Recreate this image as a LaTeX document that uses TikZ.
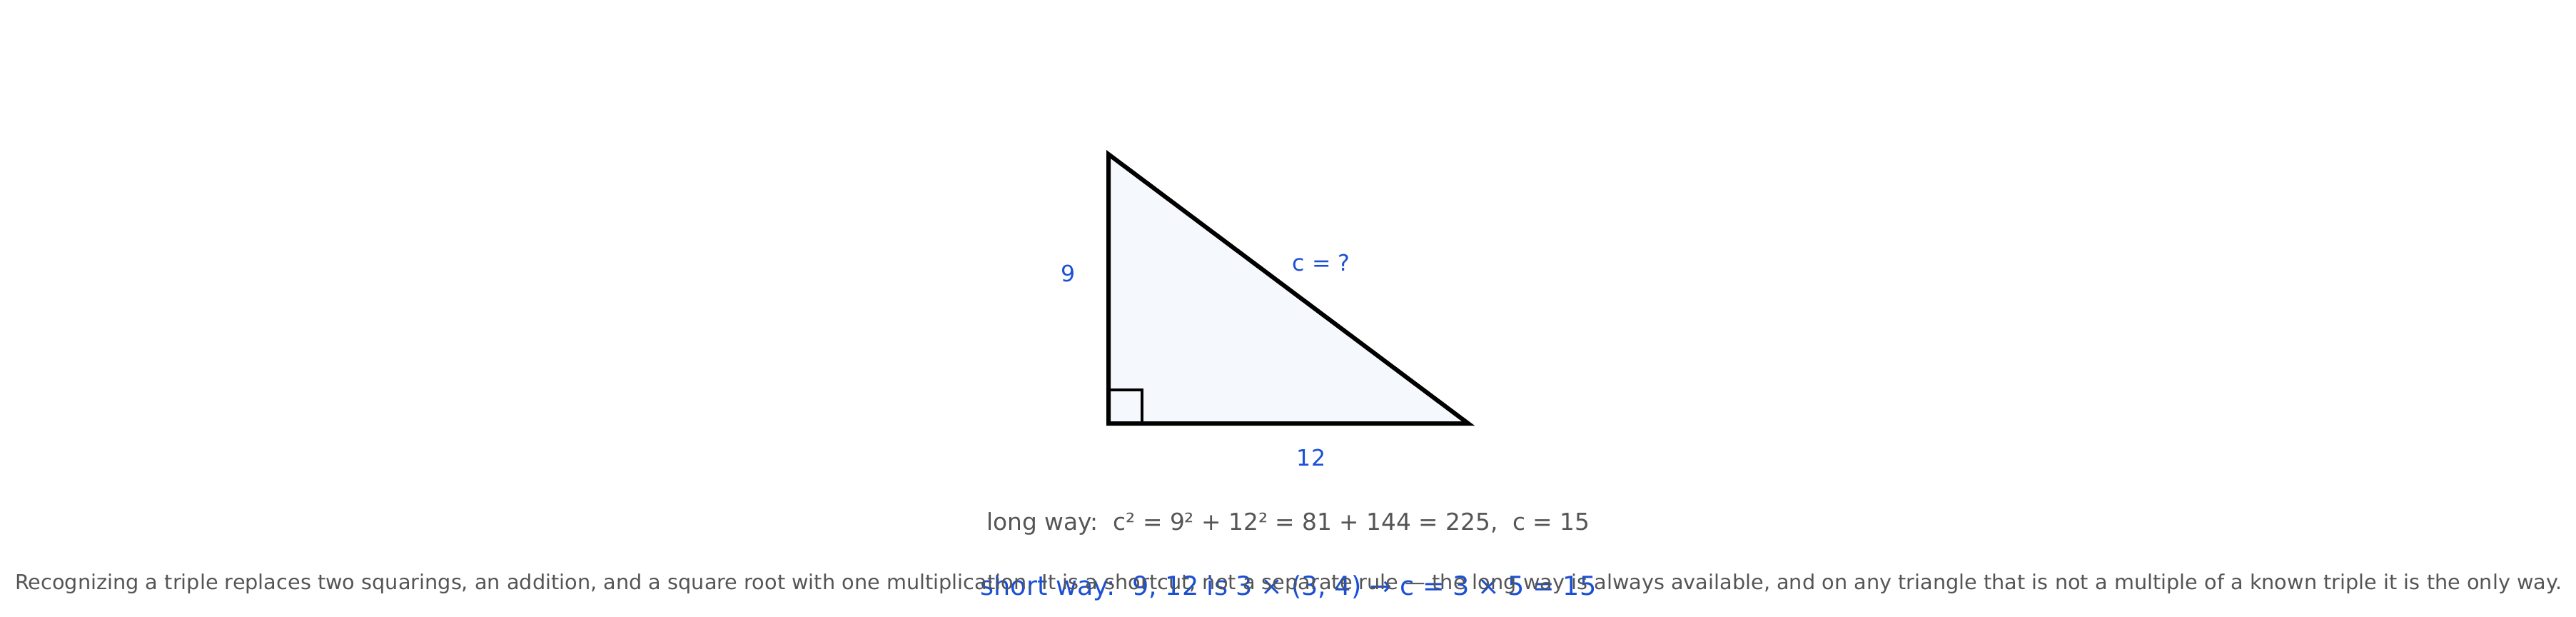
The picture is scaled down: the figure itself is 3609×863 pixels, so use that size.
\documentclass[tikz,border=0pt]{standalone}
\usepackage{fontspec}
\setmainfont{DejaVu Sans}
\usepackage{tikz}
\usetikzlibrary{positioning}

\definecolor{labelblue}{HTML}{1A4FD6}
\definecolor{textgrey}{HTML}{555555}
\definecolor{trifill}{HTML}{F5F9FD}

\begin{document}
\begin{tikzpicture}[x=0.5pt,y=0.5pt]
      \useasboundingbox (0,0) rectangle (3609,863);

      \coordinate (1) at (1553,647);
      \coordinate (2) at (1553,270);
      \coordinate (3) at (2057,270);

      \draw[line width=3pt,fill=trifill,line join=miter] (1) -- (2) -- (3) -- cycle;
      \draw[line width=2pt] ([yshift=23.5pt]2) -| ([xshift=23.5pt]2);

      \node[labelblue,font=\fontsize{15.8}{19}\selectfont] (a) at (1497,480) {9};
      \node[labelblue,font=\fontsize{15.8}{19}\selectfont] (c) at (1851,495) {c = ?};
      \node[labelblue,font=\fontsize{15.8}{19}\selectfont] (b) at (1837,222) {12};

      \node[textgrey,font=\fontsize{16.4}{19}\selectfont] (long) at (1805,130) {long way:\ \ c² = 9² + 12² = 81 + 144 = 225,\ \ c = 15};
      \node[labelblue,font=\fontsize{18.3}{21}\selectfont] (short) at (1805,40) {short way:\ \ 9, 12 is 3 × (3, 4) → c = 3 × 5 = 15};
      \node[textgrey,font=\fontsize{14.37}{17}\selectfont] (note) at (1805,45) {Recognizing a triple replaces two squarings, an addition, and a square root with one multiplication. It is a shortcut, not a separate rule — the long way is always available, and on any triangle that is not a multiple of a known triple it is the only way.};
    \end{tikzpicture}
\end{document}
